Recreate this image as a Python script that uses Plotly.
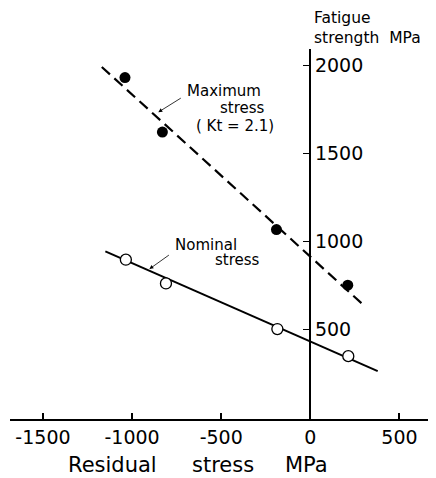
import plotly.graph_objects as go

# ---- data ----
residual_max = [-1040, -830, -190, 210]
fatigue_max = [1930, 1620, 1066, 750]
residual_nom = [-1035, -810, -185, 213]
fatigue_nom = [895, 760, 501, 347]

# fitted trend lines (end points)
max_fit_x = [-1170, 290]
max_fit_y = [1990, 645]
nom_fit_x = [-1150, 378]
nom_fit_y = [942, 262]

x_ticks = [-1500, -1000, -500, 0, 500]
x_tick_text = ["-1500", "-1000", "-500", "0", "500"]
y_ticks = [500, 1000, 1500, 2000]
y_tick_text = ["500", "1000", "1500", "2000"]

FONT = "DejaVu Sans"

fig = go.Figure()
fig.add_trace(go.Scatter(x=max_fit_x, y=max_fit_y, mode="lines",
                         line=dict(color="black", width=2.2, dash="11px,6px"),
                         hoverinfo="skip", showlegend=False))
fig.add_trace(go.Scatter(x=nom_fit_x, y=nom_fit_y, mode="lines",
                         line=dict(color="black", width=2),
                         hoverinfo="skip", showlegend=False))
fig.add_trace(go.Scatter(x=residual_max, y=fatigue_max, mode="markers",
                         marker=dict(color="black", size=11, symbol="circle"),
                         showlegend=False))
fig.add_trace(go.Scatter(x=residual_nom, y=fatigue_nom, mode="markers",
                         marker=dict(color="white", size=11, symbol="circle",
                                     line=dict(color="black", width=1.3)),
                         showlegend=False))

# page body has an 8px default margin, so the figure is 8px smaller
W, H = 428, 470
L, R, T, B = 2, 0, 41, 59
x_range = [-1685, 705]
y_range = [-10, 2092]

# reference plot-area (in reference pixels) for placing texts
REF_L, REF_R, REF_T, REF_B = 10, 436, 49, 419


def px(x):
    return (x - REF_L) / (REF_R - REF_L)


def py(y):
    return (REF_B - y) / (REF_B - REF_T)


fig.update_layout(
    width=W, height=H,
    margin=dict(l=L, r=R, t=T, b=B, autoexpand=False),
    paper_bgcolor="white", plot_bgcolor="white",
    font=dict(family=FONT, color="black", size=15),
    xaxis=dict(range=x_range, showgrid=False, zeroline=False,
               showline=True, linecolor="black", linewidth=1.5,
               ticks="inside", ticklen=6, tickwidth=1.5, tickcolor="black",
               tickvals=x_ticks, ticktext=x_tick_text,
               tickfont=dict(size=19, family=FONT)),
    yaxis=dict(range=y_range, showgrid=False, zeroline=False,
               anchor="free", position=px(310), side="right",
               showline=True, linecolor="black", linewidth=2.2,
               ticks="inside", ticklen=6, tickwidth=1.3, tickcolor="black",
               tickvals=y_ticks, ticktext=y_tick_text,
               tickfont=dict(size=19, family=FONT)),
)


def ann(text, x, y, size=15, xref="x", yref="y", xanchor="left"):
    fig.add_annotation(text=text, x=x, y=y, xref=xref, yref=yref,
                       showarrow=False, xanchor=xanchor, yanchor="middle",
                       font=dict(size=size, family=FONT, color="black"))


# curve labels
ann("Maximum", -701, 1853)
ann("stress", -516, 1756)
ann("( Kt = 2.1)", -651, 1654)
ann("Nominal", -769, 978)
ann("stress", -544, 893)

# leader arrows
fig.add_annotation(x=-853, y=1733, ax=24, ay=-15, text="", showarrow=True,
                   arrowhead=2, arrowsize=1, arrowwidth=0.8, arrowcolor="black")
fig.add_annotation(x=-903, y=842, ax=21, ay=-15, text="", showarrow=True,
                   arrowhead=2, arrowsize=1, arrowwidth=0.8, arrowcolor="black")

# y-axis title (top right)
ann("Fatigue", px(312), py(18), size=15.5, xref="paper", yref="paper")
ann("strength\u00a0\u00a0MPa", px(312), py(38), size=15.5, xref="paper", yref="paper")

# x-axis title (words spaced as in the reference)
ann("Residual", px(66), py(465), size=21, xref="paper", yref="paper")
ann("stress", px(190), py(465), size=21, xref="paper", yref="paper")
ann("MPa", px(283), py(465), size=21, xref="paper", yref="paper")

fig.write_html("out.html")
